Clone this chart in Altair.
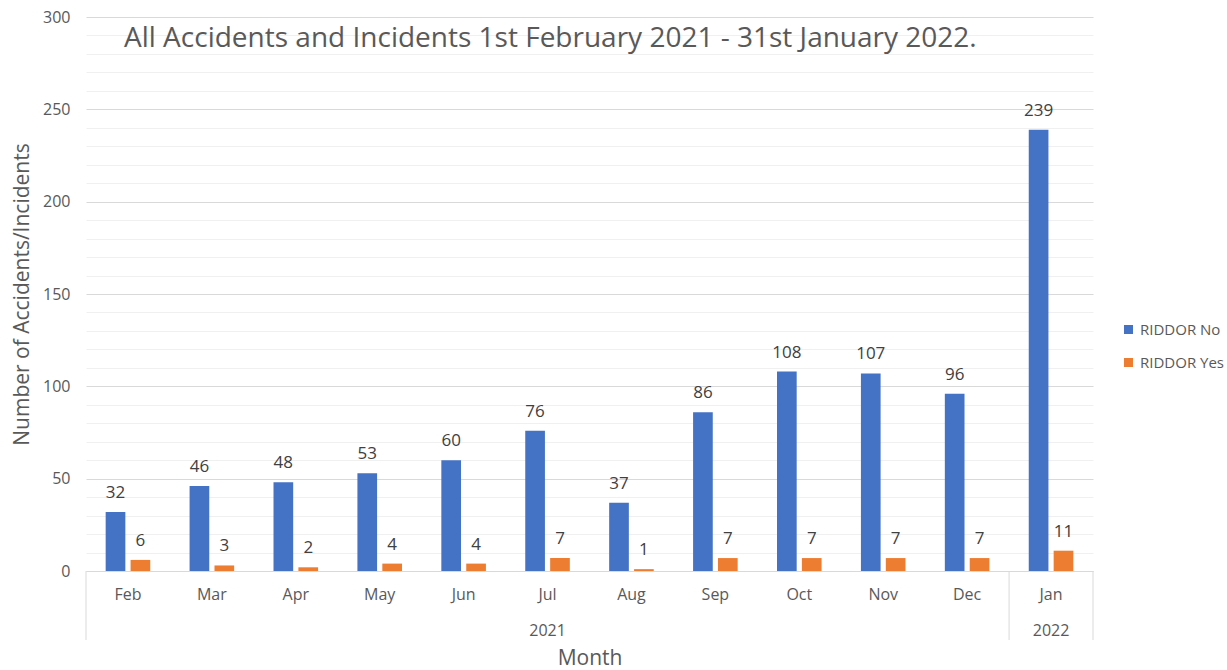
import altair as alt
import pandas as pd

# Monthly accident / incident counts, split by RIDDOR reportability
months = ["Feb", "Mar", "Apr", "May", "Jun", "Jul", "Aug", "Sep", "Oct", "Nov", "Dec", "Jan"]
years = ["2021"] * 11 + ["2022"]
riddor_no = [32, 46, 48, 53, 60, 76, 37, 86, 108, 107, 96, 239]
riddor_yes = [6, 3, 2, 4, 4, 7, 1, 7, 7, 7, 7, 11]

series_names = ["RIDDOR No", "RIDDOR Yes"]
series_colors = ["#4472C4", "#ED7D31"]

title_text = "All Accidents and Incidents 1st February 2021 - 31st January 2022."

FONT = "Open Sans"
TEXT_GREY = "#595959"
W, H = 1007, 554

rows = []
for m, yr, n, y in zip(months, years, riddor_no, riddor_yes):
    rows.append({"month": m, "year": yr, "series": series_names[0], "count": n})
    rows.append({"month": m, "year": yr, "series": series_names[1], "count": y})
df = pd.DataFrame(rows)

# Year group labels sit under the middle month of each year; separators at year boundaries
year_rows = []
for yr in dict.fromkeys(years):
    ms = [m for m, y in zip(months, years) if y == yr]
    year_rows.append({"year": yr, "month": ms[len(ms) // 2], "first": ms[0]})
year_df = pd.DataFrame(year_rows)
start_df = pd.DataFrame({"month": year_df["first"]})
end_df = pd.DataFrame({"month": [months[-1]]})

x_scale = alt.Scale(domain=months, paddingInner=0, paddingOuter=0)

x_axis = alt.Axis(
    title="Month",
    labelAngle=0,
    labelFont=FONT,
    labelFontSize=16,
    labelColor=TEXT_GREY,
    labelPadding=15,
    ticks=False,
    domainColor="#d9d9d9",
    domainWidth=1,
    titleFont=FONT,
    titleFontSize=21,
    titleFontWeight="normal",
    titleColor=TEXT_GREY,
    titleBaseline="middle",
    titleY=87,
    grid=False,
)

y_axis = alt.Axis(
    title="Number of Accidents/Incidents",
    values=list(range(0, 301, 10)),
    labelExpr="datum.value % 50 === 0 ? datum.label : ''",
    gridColor={"condition": {"test": "datum.value % 50 === 0", "value": "#d9d9d9"}, "value": "#f0f0f0"},
    gridWidth=1,
    domain=False,
    ticks=False,
    labelFont=FONT,
    labelFontSize=16,
    labelColor=TEXT_GREY,
    labelPadding=16,
    titleFont=FONT,
    titleFontSize=21,
    titleFontWeight="normal",
    titleColor=TEXT_GREY,
    titleAngle=-90,
    titleAlign="center",
    titleBaseline="middle",
    titleX=-64,
    titleY=277,
)


def x_enc(band=0.5):
    return alt.X("month:N", scale=x_scale, sort=months, axis=x_axis, bandPosition=band)


y_enc = alt.Y("count:Q", scale=alt.Scale(domain=[0, 300], nice=False), axis=y_axis)
x_off = alt.XOffset("series:N", sort=series_names,
                    scale=alt.Scale(paddingInner=0.21, paddingOuter=0.79))

base = alt.Chart(df)

bars = base.mark_bar().encode(
    x=alt.X("month:N", scale=x_scale, sort=months, axis=x_axis),
    xOffset=x_off,
    y=y_enc,
    color=alt.Color(
        "series:N",
        sort=series_names,
        scale=alt.Scale(domain=series_names, range=series_colors),
        legend=alt.Legend(
            title=None,
            orient="none",
            legendX=1035,
            legendY=305,
            symbolType="square",
            symbolSize=81,
            symbolStrokeWidth=0,
            labelFont=FONT,
            labelFontSize=15,
            labelColor=TEXT_GREY,
            labelOffset=4,
            rowPadding=17,
            padding=0,
        ),
    ),
)

labels = base.mark_text(
    baseline="middle", dy=-19, font=FONT, fontSize=17, color="#404040"
).encode(
    x=alt.X("month:N", scale=x_scale, sort=months, axis=x_axis),
    xOffset=x_off,
    y=y_enc,
    text=alt.Text("count:Q"),
)

year_labels = alt.Chart(year_df).mark_text(
    baseline="middle", font=FONT, fontSize=16, color=TEXT_GREY
).encode(
    x=x_enc(0.5),
    y=alt.value(H + 60),
    text="year:N",
)

start_rules = alt.Chart(start_df).mark_rule(color="#d9d9d9", strokeWidth=1).encode(
    x=x_enc(0),
    y=alt.value(H),
    y2=alt.value(H + 69),
)

end_rules = alt.Chart(end_df).mark_rule(color="#d9d9d9", strokeWidth=1).encode(
    x=x_enc(1),
    y=alt.value(H),
    y2=alt.value(H + 69),
)

# Chart heading drawn inside the plot area, top-left
heading = alt.Chart(pd.DataFrame({"t": [title_text]})).mark_text(
    align="left", baseline="middle", font=FONT, fontSize=28, color=TEXT_GREY
).encode(
    x=alt.value(38),
    y=alt.value(22),
    text="t:N",
)

chart = alt.layer(bars, labels, year_labels, start_rules, end_rules, heading).properties(
    width=W,
    height=H,
    padding={"left": 86, "top": 17, "right": 134, "bottom": 99},
    autosize=alt.AutoSizeParams(type="none"),
    background="white",
).configure_view(stroke=None)

chart.save("out.html", embed_options={"renderer": "svg", "actions": False})
